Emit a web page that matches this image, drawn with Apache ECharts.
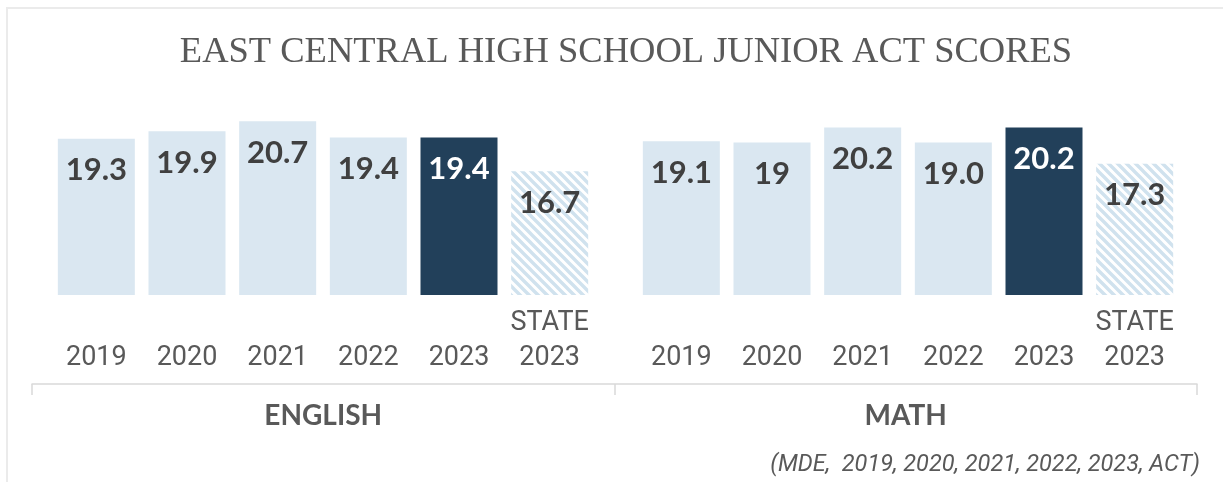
<!DOCTYPE html>
<html>
<head>
<meta charset="utf-8">
<script src="https://cdn.jsdelivr.net/npm/echarts@6/dist/echarts.min.js"></script>
<style>
html,body{margin:0;padding:0;background:#fff;}
#chart{width:1223px;height:482px;}
</style>
</head>
<body>
<div id="chart"></div>
<script>
// ---- data ----
const chartTitle = 'EAST CENTRAL HIGH SCHOOL JUNIOR ACT SCORES';
const yearCategories = ['2019', '2020', '2021', '2022', '2023', 'STATE\n2023'];
const subjectCategories = ['ENGLISH', 'MATH'];
const englishValues = [19.3, 19.9, 20.7, 19.4, 19.4, 16.7];
const englishLabels = ['19.3', '19.9', '20.7', '19.4', '19.4', '16.7'];
const mathValues = [19.1, 19.0, 20.2, 19.0, 20.2, 17.3];
const mathLabels = ['19.1', '19', '20.2', '19.0', '20.2', '17.3'];
const sourceNote = '(MDE,  2019, 2020, 2021, 2022, 2023, ACT)';

// ---- styles ----
const LIGHT = '#dae7f1';
const DARK = '#22405a';
const LABEL_DARK = '#404040';
const GRAY = '#595959';

function hatchPattern() {
  const s = 9;
  const c = document.createElement('canvas');
  c.width = s; c.height = s;
  const g = c.getContext('2d');
  g.fillStyle = '#ffffff';
  g.fillRect(0, 0, s, s);
  g.strokeStyle = '#d0e2ee';
  g.lineWidth = 3.4;
  g.beginPath();
  g.moveTo(-s, -s); g.lineTo(2 * s, 2 * s);
  g.moveTo(-s, 0); g.lineTo(s, 2 * s);
  g.moveTo(0, -s); g.lineTo(2 * s, s);
  g.stroke();
  return c;
}
const hatch = { image: hatchPattern(), repeat: 'repeat' };

function buildData(values, labels) {
  return values.map((v, i) => {
    const item = { value: v, label: { formatter: labels[i] } };
    if (i === values.length - 2) {
      item.itemStyle = { color: DARK };
      item.label.color = '#ffffff';
    } else if (i === values.length - 1) {
      item.itemStyle = { color: hatch };
    }
    return item;
  });
}

const yMin = 6.8, yMax = 21;
const gridTop = 117.5, gridH = 177.5;

const xAxisCommon = {
  type: 'category',
  data: yearCategories,
  axisLine: { show: false },
  axisTick: { show: false },
  axisLabel: {
    interval: 0,
    margin: 11,
    fontFamily: "'Liberation Sans Narrow', 'Roboto', sans-serif",
    fontSize: 27,
    lineHeight: 35,
    color: GRAY,
    formatter: v => (v.indexOf('\n') < 0 ? '\n' + v : v)
  }
};
const yAxisCommon = { type: 'value', min: yMin, max: yMax, show: false };
const barLabel = {
  show: true,
  position: 'insideTop',
  distance: 16,
  fontFamily: 'Lato, Roboto, sans-serif',
  fontWeight: 'bold',
  fontSize: 31,
  color: LABEL_DARK
};

const chart = echarts.init(document.getElementById('chart'), null, { renderer: 'canvas' });
chart.setOption({
  animation: false,
  backgroundColor: '#ffffff',
  title: {
    text: chartTitle,
    left: 621,
    top: 29,
    textAlign: 'center',
    textStyle: {
      fontFamily: "'Liberation Serif', 'DejaVu Serif', serif",
      fontWeight: 'normal',
      fontSize: 36.5,
      color: GRAY
    }
  },
  grid: [
    { left: 51, width: 544, top: gridTop, height: gridH },
    { left: 636, width: 544, top: gridTop, height: gridH },
    { left: 32, right: 26, top: 380, height: 4 }
  ],
  xAxis: [
    Object.assign({ gridIndex: 0 }, xAxisCommon),
    Object.assign({ gridIndex: 1 }, xAxisCommon),
    {
      gridIndex: 2,
      type: 'category',
      data: subjectCategories,
      axisLine: { show: true, lineStyle: { color: '#d9d9d9', width: 1.5 } },
      axisTick: { show: true, length: 11, lineStyle: { color: '#d9d9d9', width: 1.5 } },
      axisLabel: {
        margin: 18,
        fontFamily: 'Lato, Roboto, sans-serif',
        fontWeight: 'bold',
        fontSize: 28,
        color: GRAY
      }
    }
  ],
  yAxis: [
    Object.assign({ gridIndex: 0 }, yAxisCommon),
    Object.assign({ gridIndex: 1 }, yAxisCommon),
    { gridIndex: 2, type: 'value', show: false }
  ],
  series: [
    {
      type: 'bar', xAxisIndex: 0, yAxisIndex: 0,
      barWidth: 77,
      itemStyle: { color: LIGHT },
      label: barLabel,
      data: buildData(englishValues, englishLabels)
    },
    {
      type: 'bar', xAxisIndex: 1, yAxisIndex: 1,
      barWidth: 77,
      itemStyle: { color: LIGHT },
      label: barLabel,
      data: buildData(mathValues, mathLabels)
    }
  ],
  graphic: [
    {
      type: 'polyline',
      shape: { points: [[7, 490], [7, 8], [1230, 8]] },
      style: { stroke: '#ebebeb', lineWidth: 2, fill: null },
      silent: true
    },
    {
      type: 'text',
      right: 23,
      top: 454,
      style: {
        text: sourceNote,
        fontFamily: "Roboto, sans-serif",
        fontStyle: 'italic',
        fontSize: 23.5,
        fill: GRAY
      }
    }
  ]
});
</script>
</body>
</html>
